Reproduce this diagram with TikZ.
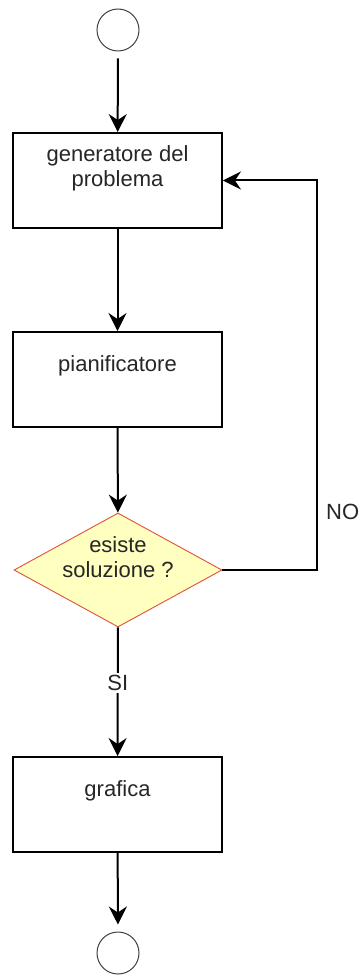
\documentclass[tikz,border=0pt]{standalone}
\usepackage{fontspec}
\setmainfont{Liberation Sans}
\usetikzlibrary{arrows.meta,shapes.geometric}
\definecolor{decfill}{HTML}{FFFFC0}
\definecolor{decline}{HTML}{E0503C}
\tikzset{
  x=1pt, y=-1pt,
  term/.style={circle, draw=black!75, line width=1pt, minimum size=42pt, inner sep=0pt},
  stepbox/.style={rectangle, draw=black, line width=1.9pt, minimum width=209pt, minimum height=95pt, inner sep=0pt},
  decision/.style={diamond, draw=decline, fill=decfill, line width=0.9pt, minimum width=208pt, minimum height=114pt, inner sep=0pt},
  txt/.style={font=\fontsize{22}{25}\selectfont, align=center, inner sep=0pt, text=black!85},
  flow/.style={line width=2pt, -{Stealth[length=18pt,width=18pt,inset=6pt]}},
}
\begin{document}
\begin{tikzpicture}
\useasboundingbox (0,0) rectangle (362,976);
\node[term] (start) at (118,30) {};
\node[stepbox] (b1) at (117.5,180.5) {};
\node[txt] (t1) at (117.5,168.5) {generatore del\\problema};
\node[stepbox] (b2) at (117.5,379.5) {};
\node[txt] (t2) at (117.5,366) {pianificatore};
\node[decision] (dec) at (118,570) {};
\node[txt] (t3) at (118,557) {esiste\\soluzione ?};
\node[stepbox] (b3) at (117.5,804.5) {};
\node[txt] (t4) at (117.5,791) {grafica};
\node[term] (end) at (118,953) {};
\coordinate (corner) at (317,570);

\draw[flow, shorten <=7pt] (start) -- (b1);
\draw[flow] (b1) -- (b2);
\draw[flow] (b2) -- (dec);
\draw[flow] (dec.east) -- (corner) |- (b1.east);
\draw[flow] (dec) -- node[txt, fill=white, inner sep=2pt, pos=0.43] (si) {SI} (b3);
\draw[flow, shorten >=7pt] (b3) -- (end);
\node[txt, anchor=west] (no) at (326,512) {NO};
\end{tikzpicture}
\end{document}
